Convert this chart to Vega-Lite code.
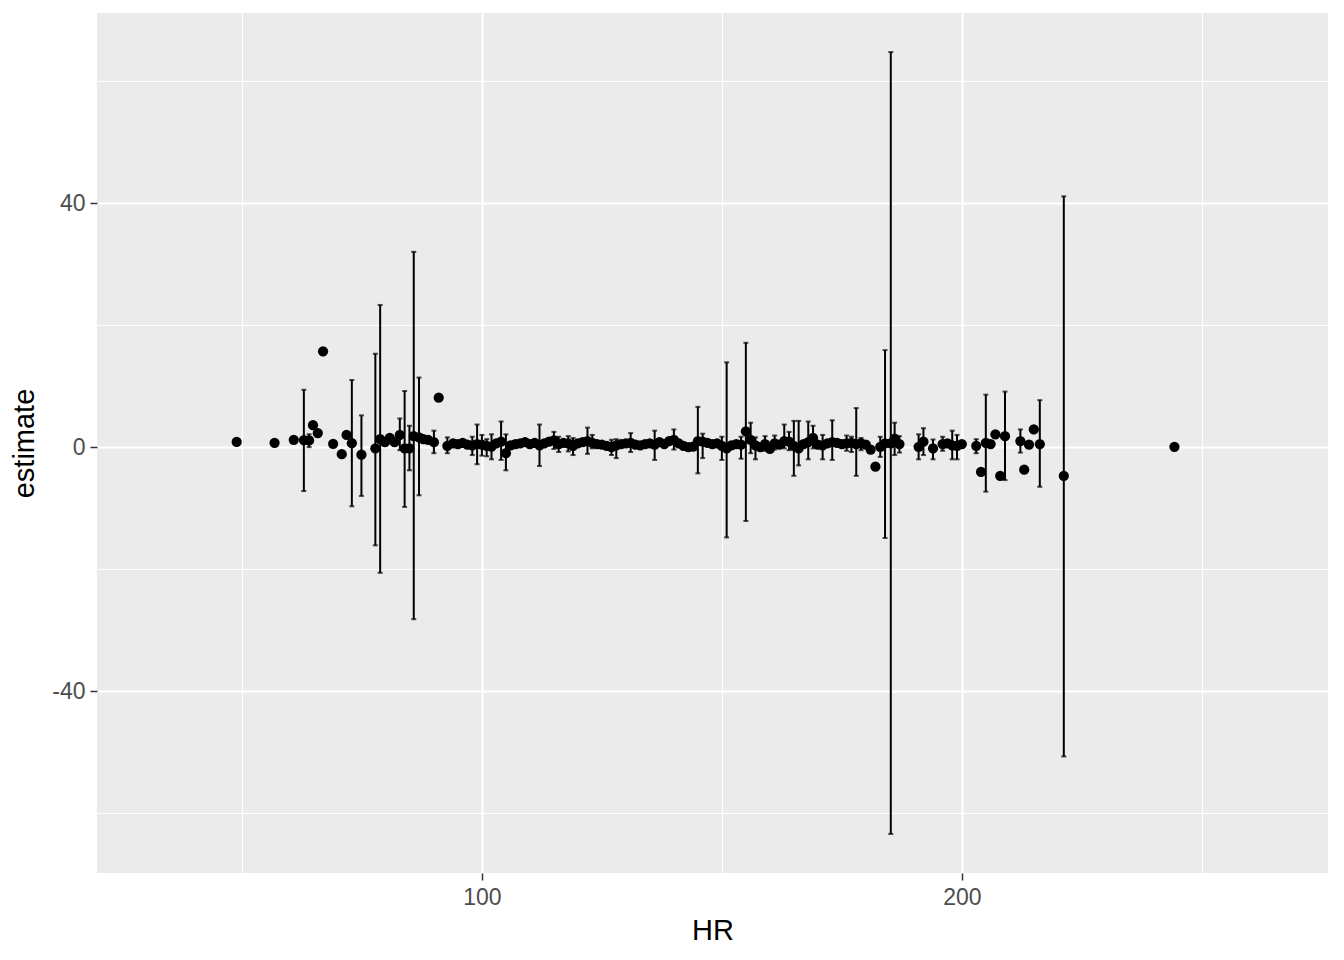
{
  "$schema": "https://vega.github.io/schema/vega-lite/v6.json",
  "width": 1231,
  "height": 860,
  "autosize": "none",
  "padding": {"left": 97, "top": 13, "right": 16, "bottom": 87},
  "background": "white",
  "config": {
    "font": "Liberation Sans",
    "view": {"fill": "#EBEBEB", "stroke": null},
    "axis": {
      "domain": false,
      "gridColor": "white",
      "tickColor": "#333333",
      "tickSize": 7,
      "tickWidth": 1.5,
      "labelColor": "#4D4D4D",
      "labelFontSize": 23,
      "labelFont": "Liberation Sans",
      "titleFont": "Liberation Sans",
      "titleFontSize": 29,
      "titleFontWeight": "normal",
      "titleColor": "black"
    }
  },
  "data": {
    "values": [
      {"HR": 48.9, "estimate": 0.85},
      {"HR": 56.8, "estimate": 0.7},
      {"HR": 60.8, "estimate": 1.2},
      {"HR": 62.9, "estimate": 1.15, "lo": -7.2, "hi": 9.4},
      {"HR": 64.0, "estimate": 1.1, "lo": 0.0, "hi": 2.1},
      {"HR": 64.8, "estimate": 3.6},
      {"HR": 65.8, "estimate": 2.3},
      {"HR": 66.9, "estimate": 15.7},
      {"HR": 69.0, "estimate": 0.55},
      {"HR": 70.8, "estimate": -1.15},
      {"HR": 71.8, "estimate": 2.0},
      {"HR": 72.9, "estimate": 0.65, "lo": -9.7, "hi": 11.0},
      {"HR": 74.9, "estimate": -1.25, "lo": -8.0, "hi": 5.2},
      {"HR": 77.8, "estimate": -0.2, "lo": -16.1, "hi": 15.3},
      {"HR": 78.8, "estimate": 1.3, "lo": -20.6, "hi": 23.3},
      {"HR": 79.8, "estimate": 0.8},
      {"HR": 80.8, "estimate": 1.5},
      {"HR": 81.8, "estimate": 0.8},
      {"HR": 82.9, "estimate": 2.0, "lo": -0.5, "hi": 4.7},
      {"HR": 83.9, "estimate": -0.2, "lo": -9.8, "hi": 9.2},
      {"HR": 84.9, "estimate": -0.2, "lo": -3.8, "hi": 3.5},
      {"HR": 85.8, "estimate": 1.8, "lo": -28.2, "hi": 32.0},
      {"HR": 86.9, "estimate": 1.6, "lo": -7.9, "hi": 11.4},
      {"HR": 87.8, "estimate": 1.3},
      {"HR": 88.8, "estimate": 1.2},
      {"HR": 90.0, "estimate": 0.8, "lo": -1.0, "hi": 2.7},
      {"HR": 91.0, "estimate": 8.1},
      {"HR": 92.8, "estimate": 0.2, "lo": -1.0, "hi": 1.6},
      {"HR": 94, "estimate": 0.6},
      {"HR": 95, "estimate": 0.5},
      {"HR": 96, "estimate": 0.7},
      {"HR": 97, "estimate": 0.4},
      {"HR": 98, "estimate": 0.3, "lo": -1.3, "hi": 1.7},
      {"HR": 99, "estimate": 0.5, "lo": -2.8, "hi": 3.7},
      {"HR": 100, "estimate": 0.4, "lo": -1.4, "hi": 2.0},
      {"HR": 101, "estimate": 0.2, "lo": -1.5, "hi": 1.3},
      {"HR": 102, "estimate": 0.1, "lo": -2.0, "hi": 2.1},
      {"HR": 103, "estimate": 0.6},
      {"HR": 104, "estimate": 0.9, "lo": -2.1, "hi": 4.2},
      {"HR": 105, "estimate": -1.0, "lo": -3.8, "hi": 2.1},
      {"HR": 106, "estimate": 0.3},
      {"HR": 107, "estimate": 0.5},
      {"HR": 108, "estimate": 0.6},
      {"HR": 109, "estimate": 0.8},
      {"HR": 110, "estimate": 0.5},
      {"HR": 111, "estimate": 0.7},
      {"HR": 112, "estimate": 0.3, "lo": -3.1, "hi": 3.7},
      {"HR": 113, "estimate": 0.6},
      {"HR": 114, "estimate": 0.9},
      {"HR": 115, "estimate": 1.1, "lo": -0.3, "hi": 2.5},
      {"HR": 116, "estimate": 0.5, "lo": -0.8, "hi": 1.7},
      {"HR": 117, "estimate": 0.7},
      {"HR": 118, "estimate": 0.6, "lo": -0.7, "hi": 1.8},
      {"HR": 119, "estimate": 0.2, "lo": -1.3, "hi": 1.5},
      {"HR": 120, "estimate": 0.6},
      {"HR": 121, "estimate": 0.8},
      {"HR": 122, "estimate": 1.0, "lo": -1.1, "hi": 3.2},
      {"HR": 123, "estimate": 0.7, "lo": -0.2, "hi": 2.0},
      {"HR": 124, "estimate": 0.5},
      {"HR": 125, "estimate": 0.4},
      {"HR": 126, "estimate": 0.2},
      {"HR": 127, "estimate": 0.0, "lo": -1.3, "hi": 1.2},
      {"HR": 128, "estimate": 0.3, "lo": -1.8, "hi": 1.3},
      {"HR": 129, "estimate": 0.5},
      {"HR": 130, "estimate": 0.6},
      {"HR": 131, "estimate": 0.7, "lo": -0.8, "hi": 2.3},
      {"HR": 132, "estimate": 0.4},
      {"HR": 133, "estimate": 0.3},
      {"HR": 134, "estimate": 0.5},
      {"HR": 135, "estimate": 0.6},
      {"HR": 136, "estimate": 0.4, "lo": -2.1, "hi": 2.7},
      {"HR": 137, "estimate": 0.8},
      {"HR": 138, "estimate": 0.5},
      {"HR": 139, "estimate": 1.0},
      {"HR": 140, "estimate": 1.2, "lo": -0.4, "hi": 2.9},
      {"HR": 141, "estimate": 0.6},
      {"HR": 142, "estimate": 0.2},
      {"HR": 143, "estimate": 0.0},
      {"HR": 144, "estimate": 0.1},
      {"HR": 145, "estimate": 1.0, "lo": -4.3, "hi": 6.6},
      {"HR": 146, "estimate": 0.9, "lo": -1.8, "hi": 2.2},
      {"HR": 147, "estimate": 0.7},
      {"HR": 148, "estimate": 0.5},
      {"HR": 149, "estimate": 0.6},
      {"HR": 150, "estimate": 0.2, "lo": -2.1, "hi": 1.7},
      {"HR": 151, "estimate": -0.2, "lo": -14.8, "hi": 13.9},
      {"HR": 152, "estimate": 0.3},
      {"HR": 153, "estimate": 0.5},
      {"HR": 154, "estimate": 0.4, "lo": -1.9, "hi": 1.7},
      {"HR": 155, "estimate": 2.6, "lo": -12.1, "hi": 17.1},
      {"HR": 156, "estimate": 1.2, "lo": -1.0, "hi": 4.0},
      {"HR": 157, "estimate": 0.3, "lo": -2.0, "hi": 1.6},
      {"HR": 158, "estimate": 0.0},
      {"HR": 159, "estimate": 0.5, "lo": -0.6, "hi": 1.8},
      {"HR": 160, "estimate": -0.3},
      {"HR": 161, "estimate": 0.6, "lo": -0.4, "hi": 1.9},
      {"HR": 162, "estimate": 0.4},
      {"HR": 163, "estimate": 1.0, "lo": -0.2, "hi": 3.7},
      {"HR": 164, "estimate": 0.9, "lo": -0.5, "hi": 2.5},
      {"HR": 165, "estimate": 0.2, "lo": -4.7, "hi": 4.3},
      {"HR": 166, "estimate": -0.2, "lo": -3.0, "hi": 4.3},
      {"HR": 167, "estimate": 0.5},
      {"HR": 168, "estimate": 0.8, "lo": -2.0, "hi": 4.2},
      {"HR": 169, "estimate": 1.5, "lo": -0.2, "hi": 3.5},
      {"HR": 170, "estimate": 0.4},
      {"HR": 171, "estimate": 0.3, "lo": -2.0, "hi": 2.0},
      {"HR": 172, "estimate": 0.6},
      {"HR": 173, "estimate": 0.8, "lo": -2.1, "hi": 4.4},
      {"HR": 174, "estimate": 0.7},
      {"HR": 175, "estimate": 0.5},
      {"HR": 176, "estimate": 0.6, "lo": -0.6, "hi": 1.9},
      {"HR": 177, "estimate": 0.7, "lo": -0.8, "hi": 1.7},
      {"HR": 178, "estimate": 0.5, "lo": -4.7, "hi": 6.4},
      {"HR": 179, "estimate": 0.6, "lo": -0.5, "hi": 1.5},
      {"HR": 180, "estimate": 0.4},
      {"HR": 181, "estimate": -0.4},
      {"HR": 182, "estimate": -3.2},
      {"HR": 183, "estimate": 0.05, "lo": -1.6, "hi": 1.7},
      {"HR": 184, "estimate": 0.6, "lo": -14.9, "hi": 15.9},
      {"HR": 185.2, "estimate": 0.6, "lo": -63.4, "hi": 64.75},
      {"HR": 186, "estimate": 1.4, "lo": -1.3, "hi": 4.0},
      {"HR": 187, "estimate": 0.5, "lo": -0.9, "hi": 1.8},
      {"HR": 191, "estimate": 0.05, "lo": -2.0, "hi": 2.1},
      {"HR": 192, "estimate": 0.9, "lo": -1.3, "hi": 3.1},
      {"HR": 194, "estimate": -0.2, "lo": -2.0, "hi": 1.25},
      {"HR": 196, "estimate": 0.5, "lo": -0.6, "hi": 1.7},
      {"HR": 197, "estimate": 0.6},
      {"HR": 198, "estimate": 0.3, "lo": -2.0, "hi": 2.7},
      {"HR": 199, "estimate": 0.2, "lo": -2.0, "hi": 2.0},
      {"HR": 200, "estimate": 0.5},
      {"HR": 203, "estimate": 0.2, "lo": -1.0, "hi": 1.3},
      {"HR": 204, "estimate": -4.05},
      {"HR": 205, "estimate": 0.7, "lo": -7.3, "hi": 8.6},
      {"HR": 206, "estimate": 0.5},
      {"HR": 207, "estimate": 2.1},
      {"HR": 208, "estimate": -4.7},
      {"HR": 209, "estimate": 1.8, "lo": -5.4, "hi": 9.1},
      {"HR": 212.2, "estimate": 1.0, "lo": -0.9, "hi": 2.9},
      {"HR": 213, "estimate": -3.7},
      {"HR": 214, "estimate": 0.4},
      {"HR": 215, "estimate": 2.9},
      {"HR": 216.25, "estimate": 0.5, "lo": -6.5, "hi": 7.7},
      {"HR": 221.25, "estimate": -4.7, "lo": -50.7, "hi": 41.1},
      {"HR": 244.3, "estimate": 0.05}
    ]
  },
  "encoding": {
    "x": {
      "field": "HR",
      "type": "quantitative",
      "scale": {"domain": [19.8, 276.3], "nice": false, "zero": false},
      "axis": {
        "title": "HR",
        "values": [50, 100, 150, 200, 250],
        "labelExpr": "datum.value % 100 === 0 ? toString(datum.value) : ''",
        "tickOpacity": {"condition": {"test": "datum.value % 100 === 0", "value": 1}, "value": 0},
        "gridWidth": {"condition": {"test": "datum.value % 100 === 0", "value": 2.2}, "value": 1.1},
        "labelPadding": 6,
        "titlePadding": 7
      }
    }
  },
  "layer": [
    {
      "transform": [{"filter": "datum.lo != null"}],
      "mark": {"type": "rule", "color": "black", "strokeWidth": 2},
      "encoding": {
        "y": {
          "field": "lo",
          "type": "quantitative",
          "scale": {"domain": [-69.8, 71.15], "nice": false, "zero": false},
          "axis": {
            "title": "estimate",
            "values": [-60, -40, -20, 0, 20, 40, 60],
            "labelExpr": "datum.value % 40 === 0 ? toString(datum.value) : ''",
            "tickOpacity": {"condition": {"test": "datum.value % 40 === 0", "value": 1}, "value": 0},
            "gridWidth": {"condition": {"test": "datum.value % 40 === 0", "value": 2.2}, "value": 1.1},
            "labelPadding": 5,
            "titlePadding": 12
          }
        },
        "y2": {"field": "hi"}
      }
    },
    {
      "transform": [{"filter": "datum.lo != null"}],
      "mark": {"type": "tick", "orient": "horizontal", "color": "black", "size": 5, "thickness": 2},
      "encoding": {"y": {"field": "lo", "type": "quantitative"}}
    },
    {
      "transform": [{"filter": "datum.lo != null"}],
      "mark": {"type": "tick", "orient": "horizontal", "color": "black", "size": 5, "thickness": 2},
      "encoding": {"y": {"field": "hi", "type": "quantitative"}}
    },
    {
      "mark": {"type": "point", "filled": true, "shape": "circle", "color": "black", "opacity": 1, "size": 105},
      "encoding": {"y": {"field": "estimate", "type": "quantitative"}}
    }
  ]
}
